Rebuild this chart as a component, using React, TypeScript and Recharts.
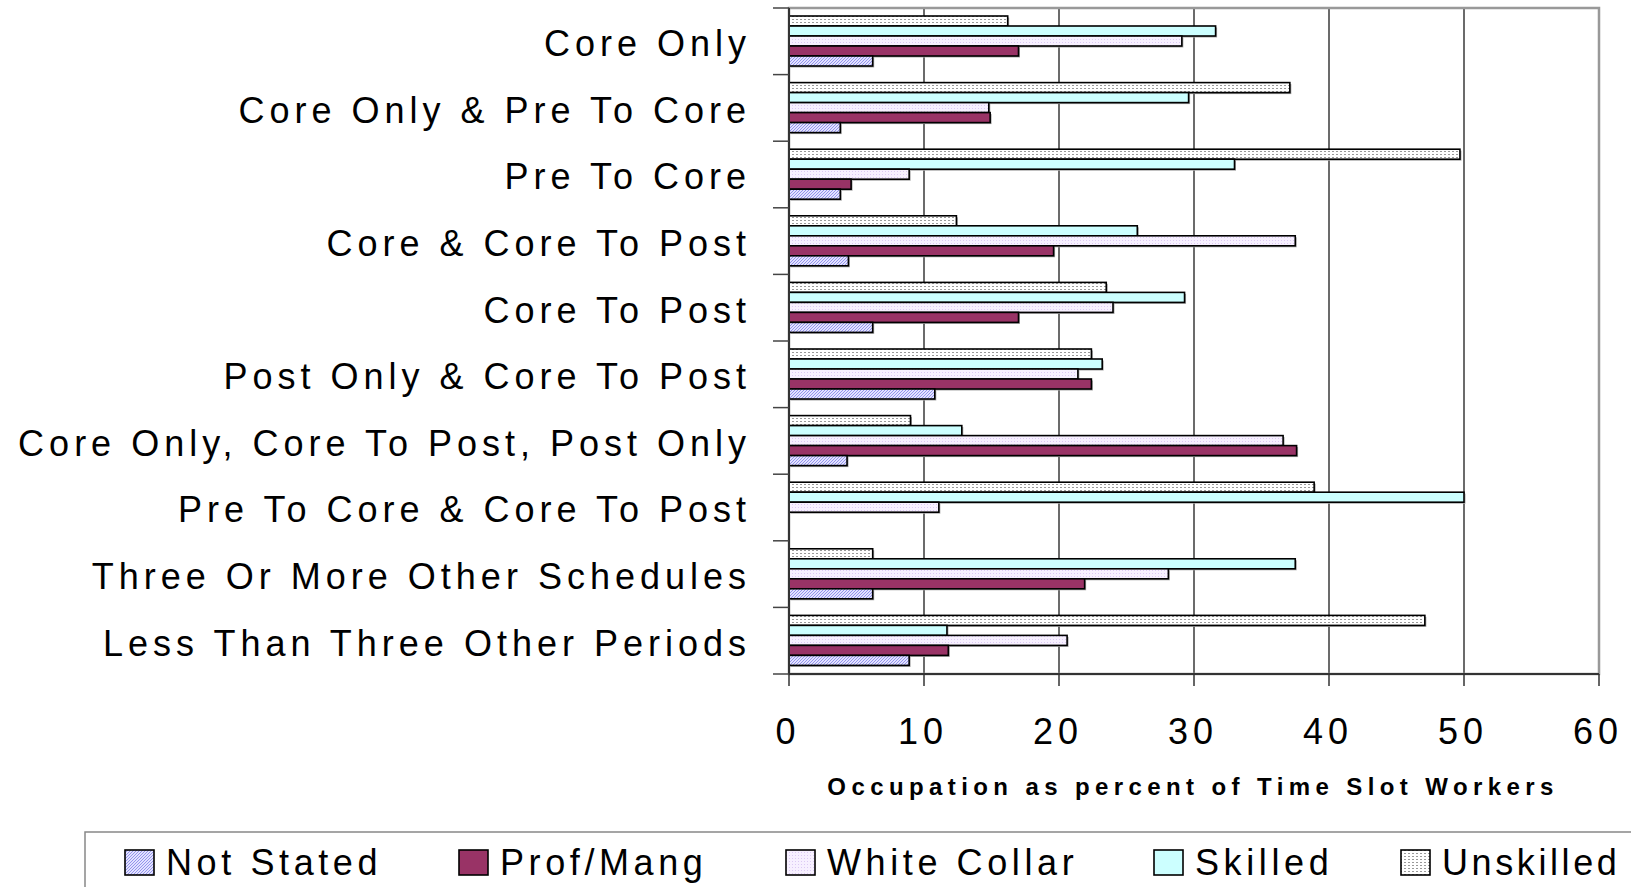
import React from 'react'
import {
  BarChart, Bar, XAxis, YAxis, CartesianGrid, ReferenceArea
} from 'recharts'

// category labels, top to bottom
const categories = [
  'Core Only',
  'Core Only & Pre To Core',
  'Pre To Core',
  'Core & Core To Post',
  'Core To Post',
  'Post Only & Core To Post',
  'Core Only, Core To Post, Post Only',
  'Pre To Core & Core To Post',
  'Three Or More Other Schedules',
  'Less Than Three Other Periods',
]

const notStated = [6.2, 3.8, 3.8, 4.4, 6.2, 10.8, 4.3, 0, 6.2, 8.9]
const profMang = [17.0, 14.9, 4.6, 19.6, 17.0, 22.4, 37.6, 0, 21.9, 11.8]
const whiteCollar = [29.1, 14.8, 8.9, 37.5, 24.0, 21.4, 36.6, 11.1, 28.1, 20.6]
const skilled = [31.6, 29.6, 33.0, 25.8, 29.3, 23.2, 12.8, 50.0, 37.5, 11.7]
const unskilled = [16.2, 37.1, 49.7, 12.4, 23.5, 22.4, 9.0, 38.9, 6.2, 47.1]

const xTicks = [0, 10, 20, 30, 40, 50, 60]
const xTitle = 'Occupation as percent of Time Slot Workers'

const legendNames = ['Not Stated', 'Prof/Mang', 'White Collar', 'Skilled', 'Unskilled']
const legendKeys = ['notStated', 'profMang', 'whiteCollar', 'skilled', 'unskilled']

const data = categories.map((name, i) => ({
  name,
  notStated: notStated[i],
  profMang: profMang[i],
  whiteCollar: whiteCollar[i],
  skilled: skilled[i],
  unskilled: unskilled[i],
}))

const W = 1631
const H = 887
const FONT = '"Liberation Sans", Arial, sans-serif'
const PLOT_TOP = 8
const PLOT_BOTTOM = 674
const BAND = (PLOT_BOTTOM - PLOT_TOP) / categories.length
const LABEL_GAP = 43

// legend layout (swatch x, text x)
const legendX = [[125, 166], [459, 500], [786, 827], [1154, 1195], [1401, 1442]]

function Patterns({ prefix }: { prefix: string }) {
  return (
    <defs>
      <pattern id={`${prefix}notStated`} width="3" height="3" patternUnits="userSpaceOnUse">
        <rect width="3" height="3" fill="#e2e2ff" />
        <path d="M-1,1 l2,-2 M0,3 l3,-3 M2,4 l2,-2" stroke="#9494ec" strokeWidth="1" />
      </pattern>
      <pattern id={`${prefix}whiteCollar`} width="3" height="3" patternUnits="userSpaceOnUse">
        <rect width="3" height="3" fill="#f7f0ff" />
        <rect x="0" y="0" width="1" height="1" fill="#dccaf4" />
      </pattern>
      <pattern id={`${prefix}unskilled`} width="4" height="3" patternUnits="userSpaceOnUse">
        <rect width="4" height="3" fill="#ffffff" />
        <rect x="0" y="1" width="2" height="1" fill="#9a9a9a" />
      </pattern>
    </defs>
  )
}

const fills: Record<string, (p: string) => string> = {
  notStated: (p) => `url(#${p}notStated)`,
  profMang: () => '#993366',
  whiteCollar: (p) => `url(#${p}whiteCollar)`,
  skilled: () => '#ccffff',
  unskilled: (p) => `url(#${p}unskilled)`,
}

const BarShape = (props: any) => {
  const { x, y, width, height, fill } = props
  if (!width || width <= 0.5) return <g />
  return (
    <g>
      <rect x={x + 1.5} y={y + 1.5} width={width} height={height} fill="#a8a8a8" />
      <rect x={x} y={y} width={width} height={height} fill={fill} stroke="#000" strokeWidth={1.6} />
    </g>
  )
}

const CategoryTick = (props: any) => {
  const { x, y, payload, index } = props
  const axisX = x + LABEL_GAP
  return (
    <g>
      <line x1={axisX - 16} x2={axisX} y1={y - BAND / 2} y2={y - BAND / 2} stroke="#444" strokeWidth={1.5} />
      {index === categories.length - 1 && (
        <line x1={axisX - 16} x2={axisX} y1={y + BAND / 2} y2={y + BAND / 2} stroke="#444" strokeWidth={1.5} />
      )}
      <text
        x={x + 5}
        y={y + 2}
        dy="0.36em"
        textAnchor="end"
        fill="#000"
        fontSize={36}
        fontFamily={FONT}
        style={{ letterSpacing: 5 }}
      >
        {payload.value}
      </text>
    </g>
  )
}

const NumberTick = (props: any) => {
  const { x, y, payload } = props
  return (
    <text
      x={x - 1}
      y={y}
      dy="0.71em"
      textAnchor="middle"
      fill="#000"
      fontSize={36}
      fontFamily={FONT}
      style={{ letterSpacing: 5 }}
    >
      {payload.value}
    </text>
  )
}

const AxisTitle = (props: any) => {
  const vb = props.viewBox || { x: 789, y: PLOT_BOTTOM, width: 810, height: 123 }
  return (
    <text
      x={vb.x + vb.width / 2 - 1}
      y={vb.y + vb.height - 2}
      textAnchor="middle"
      fill="#000"
      fontSize={24}
      fontWeight="bold"
      fontFamily={FONT}
      style={{ letterSpacing: 5.4 }}
    >
      {xTitle}
    </text>
  )
}

export default function App() {
  // Excel draws the last series on top, so bars go in reverse order
  const barOrder = ['unskilled', 'skilled', 'whiteCollar', 'profMang', 'notStated']

  return (
    <div style={{ position: 'absolute', left: 0, top: 0, width: W, height: H, overflow: 'hidden', background: '#fff' }}>
      <BarChart
        width={W}
        height={H}
        data={data}
        layout="vertical"
        margin={{ top: PLOT_TOP, right: 32, bottom: 90, left: 0 }}
        barCategoryGap={8}
        barGap={0}
      >
        <Patterns prefix="c-" />
        <CartesianGrid vertical horizontal={false} stroke="#3a3a3a" strokeWidth={1.5} />
        <ReferenceArea x1={0} x2={60} fill="none" fillOpacity={0} stroke="#999" strokeWidth={2.5} ifOverflow="visible" />
        <XAxis
          type="number"
          domain={[0, 60]}
          ticks={xTicks}
          interval={0}
          height={123}
          tickSize={12}
          tickMargin={32}
          axisLine={{ stroke: '#333', strokeWidth: 2 }}
          tickLine={{ stroke: '#333', strokeWidth: 1.5 }}
          tick={<NumberTick />}
          label={<AxisTitle />}
        />
        <YAxis
          type="category"
          dataKey="name"
          width={789}
          interval={0}
          tickSize={0}
          tickMargin={LABEL_GAP}
          tickLine={false}
          axisLine={{ stroke: '#333', strokeWidth: 2 }}
          tick={<CategoryTick />}
        />
        {barOrder.map((k) => (
          <Bar
            key={k}
            dataKey={k}
            name={legendNames[legendKeys.indexOf(k)]}
            fill={fills[k]('c-')}
            shape={<BarShape />}
            isAnimationActive={false}
          />
        ))}
      </BarChart>
      <svg width={W} height={H} style={{ position: 'absolute', left: 0, top: 0, pointerEvents: 'none' }}>
        <Patterns prefix="l-" />
        <rect x={85} y={832} width={1600} height={120} fill="#fff" stroke="#888" strokeWidth={1.5} />
        {legendKeys.map((k, i) => (
          <g key={k}>
            <rect x={legendX[i][0]} y={850} width={29} height={25} fill={fills[k]('l-')} stroke="#000" strokeWidth={1.6} />
            <text
              x={legendX[i][1]}
              y={875}
              fontSize={36}
              fontFamily={FONT}
              fill="#000"
              style={{ letterSpacing: k === 'unskilled' ? 3.6 : 4.6 }}
            >
              {legendNames[i]}
            </text>
          </g>
        ))}
      </svg>
    </div>
  )
}
